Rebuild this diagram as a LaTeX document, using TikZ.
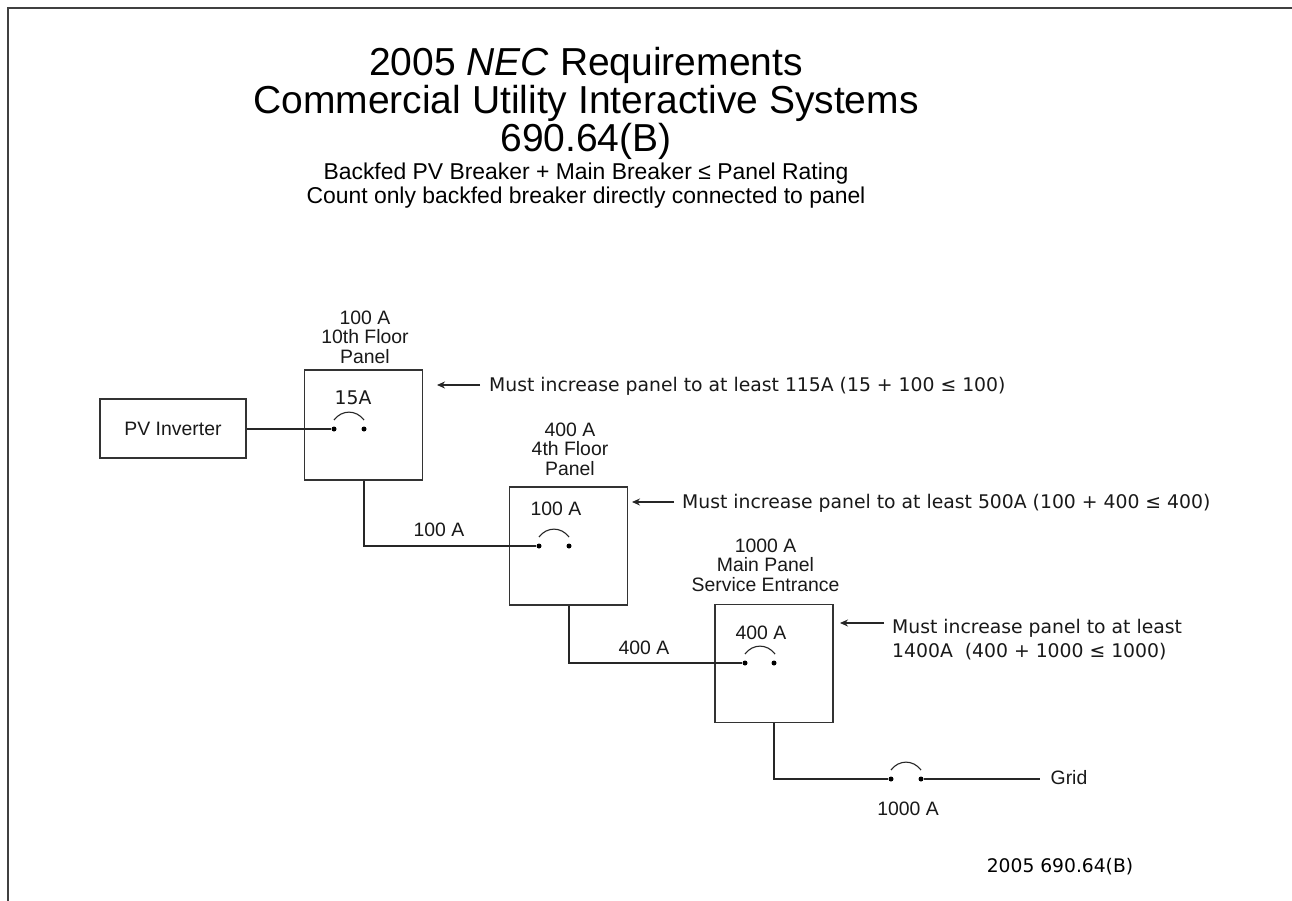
\documentclass[tikz,border=0pt]{standalone}
\usepackage{fontspec}
\setmainfont{Liberation Sans}
\newfontfamily\lucida{DejaVu Sans}
\usetikzlibrary{arrows.meta}
\tikzset{
  box/.style={draw=black!80,line width=1.3pt,inner sep=0pt,minimum width=#1},
  panel/.style={draw=black!80,line width=1.3pt,inner sep=0pt,minimum width=118pt,minimum height=#1},
  dot/.style={circle,fill=black,inner sep=0pt,minimum size=5pt},
  wire/.style={draw=black!85,line width=1.3pt},
  lab/.style={font=\fontsize{19.4}{19.6}\selectfont,align=center,inner sep=0pt,text=black!90},
  note/.style={font=\lucida\fontsize{18.8}{24}\selectfont,align=left,anchor=west,inner sep=0pt,text=black!90},
  arr/.style={draw=black!85,line width=1.2pt,-{Stealth[length=8pt,width=7pt]}},
  arcl/.style={draw=black!85,line width=1.1pt},
}
\begin{document}
\begin{tikzpicture}[x=1pt,y=-1pt]
\useasboundingbox (0,0) rectangle (1292,901);
\fill[white] (0,0) rectangle (1292,901);
\coordinate (bl) at (8,901);
\coordinate (tl) at (8,8);
\coordinate (tr) at (1292,8);
\draw[black!75,line width=1.6pt] (bl) -- (tl) -- (tr);
% titles
\node[font=\fontsize{39}{38}\selectfont,align=center,inner sep=0pt] (title) at (586,103.5)
 {2005 \textit{NEC} Requirements\\Commercial Utility Interactive Systems\\690.64(B)};
\node[font=\fontsize{22.9}{24}\selectfont,align=center,inner sep=0pt] (sub) at (586,185.5)
 {Backfed PV Breaker + Main Breaker ≤ Panel Rating\\Count only backfed breaker directly connected to panel};
% boxes
\node[box=146pt,minimum height=59pt,lab] (inv) at (173,428.5) {PV Inverter};
\node[panel=110pt] (p1) at (363.5,425) {};
\node[panel=118pt] (p2) at (568.5,546) {};
\node[panel=118pt] (p3) at (774,663.5) {};
% panel labels
\node[lab] (l1) at (365,337) {100 A\\10th Floor\\Panel};
\node[lab] (l2) at (570,449) {400 A\\4th Floor\\Panel};
\node[lab] (l3) at (765.5,565) {1000 A\\Main Panel\\Service Entrance};
% breakers
\node[dot] (b1a) at (334,429) {};
\node[dot] (b1b) at (364,429) {};
\node[dot] (b2a) at (539,546) {};
\node[dot] (b2b) at (569,546) {};
\node[dot] (b3a) at (745,663) {};
\node[dot] (b3b) at (774,663) {};
\node[dot] (b4a) at (891,779) {};
\node[dot] (b4b) at (921,779) {};
\draw[arcl] (b1a) ++(0,-9) .. controls +(8,-10.5) and +(-8,-10.5) .. +(30,0);
\draw[arcl] (b2a) ++(0,-9) .. controls +(8,-10.5) and +(-8,-10.5) .. +(30,0);
\draw[arcl] (b3a) ++(0,-9) .. controls +(8,-10.5) and +(-8,-10.5) .. +(30,0);
\draw[arcl] (b4a) ++(0,-9) .. controls +(8,-10.5) and +(-8,-10.5) .. +(30,0);
% breaker labels
\node[lab,font=\lucida\fontsize{18.8}{20}\selectfont] (a1) at (353,398) {15A};
\node[lab] (a2) at (556,509) {100 A};
\node[lab] (a3) at (761,632.5) {400 A};
\node[lab] (w1) at (439,530) {100 A};
\node[lab] (w2) at (644,648) {400 A};
\node[lab] (w3) at (908,809) {1000 A};
\node[lab] (grid) at (1069,778) {Grid};
\coordinate (gridend) at (1040,779);
% wires
\draw[wire] (inv.east |- b1a) -- (b1a);
\draw[wire] (b1b |- p1.south) -- (b1b |- b2a) -- (b2a);
\draw[wire] (b2b |- p2.south) -- (b2b |- b3a) -- (b3a);
\draw[wire] (b3b |- p3.south) -- (b3b |- b4a) -- (b4a);
\draw[wire] (b4b) -- (gridend);
% notes
\node[note] (n1) at (489,386) {Must increase panel to at least 115A (15 + 100 ≤ 100)};
\node[note] (n2) at (682,503) {Must increase panel to at least 500A (100 + 400 ≤ 400)};
\node[note] (n3) at (892,640) {Must increase panel to at least\\1400A~ (400 + 1000 ≤ 1000)};
\coordinate (c1) at (480,385);
\coordinate (c2) at (674,502);
\coordinate (c3) at (884,623);
\draw[arr] (c1) -- (437,385);
\draw[arr] (c2) -- (632,502);
\draw[arr] (c3) -- (840,623);
\node[font=\lucida\fontsize{18.7}{20}\selectfont,inner sep=0pt] (fn) at (1060,867) {2005 690.64(B)};
\end{tikzpicture}
\end{document}
